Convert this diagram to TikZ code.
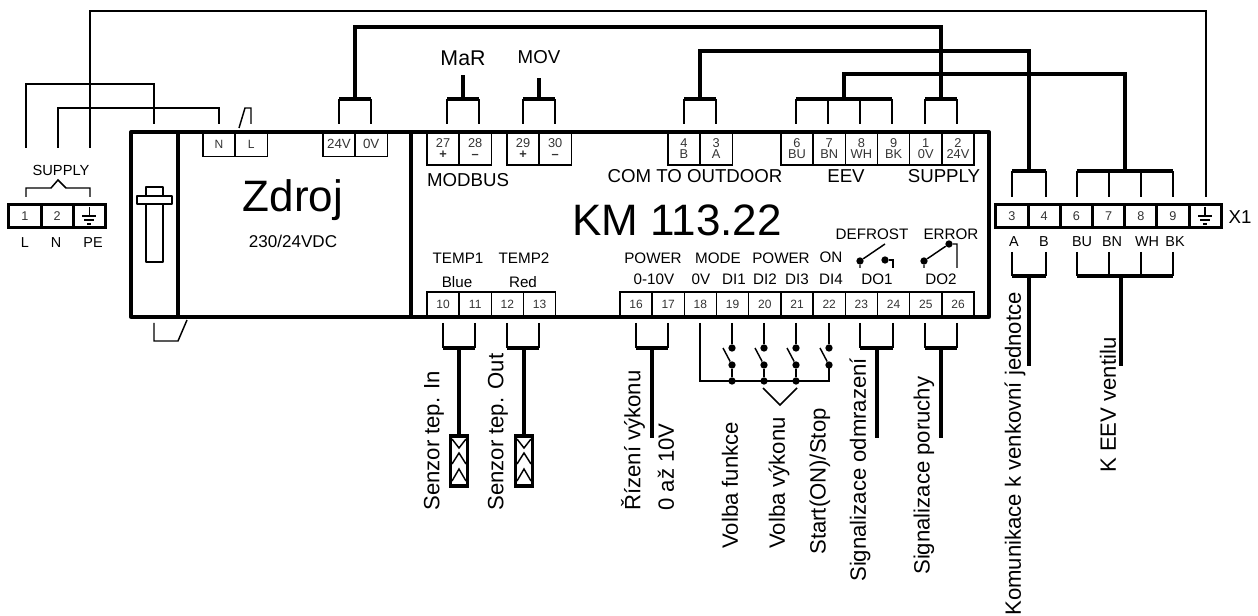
\documentclass[tikz,border=0pt]{standalone}
\usepackage{fontspec}
\setmainfont{Liberation Sans}
\usepackage{tikz}
\usepackage{xcolor}
\newcommand{\fs}[1]{\fontsize{#1}{#1}\selectfont}
\tikzstyle{every node}=[font=\fs{14}, inner sep=0pt]
\tikzstyle{term} = [rectangle, draw, line width=1.1pt, minimum width=24.15pt, minimum height=18.6pt, align=center, text=black!80, font=\fs{9}, node distance=24.15pt]
\tikzstyle{tall} = [term, minimum height=24.75pt, font=\fs{9.6}]
\tikzstyle{xterm} = [term, line width=2.3pt, minimum height=17.5pt, font=\fs{9.5}]
\tikzstyle{wire} = [draw, line width=1.1pt]
\tikzstyle{bus} = [draw, line width=2.5pt, line cap=square]
\tikzstyle{frame} = [draw, line width=2.5pt, line join=round]
\tikzstyle{dot} = [circle, fill, minimum size=5.5pt]
\tikzstyle{sensor} = [rectangle, draw, line width=2.3pt, minimum width=13pt, minimum height=37.5pt]
\tikzstyle{vlabel} = [rotate=90, anchor=west, font=\fs{16.6}]
\tikzstyle{small} = [font=\fs{11.4}]
\tikzstyle{tiny} = [font=\fs{10.8}]

\begin{document}
\begin{tikzpicture}[x=0.75pt, y=-0.75pt]
    \useasboundingbox (0,0) rectangle (1258,616);
    % Housing
    \path [frame] (131,132) rectangle (989,317);
    \path [frame] (178,132) -- (178,317);
    \path [frame] (411,132) -- (411,317);
    % Din clip
    \path [draw, line width=2.2pt, line join=round] (146,187) rectangle (163,262);
    \path [draw, line width=2.2pt, fill=white, line join=round] (137,196) rectangle (172,204);
    \path [wire] (154,323) -- (154,341) -- (178,341) -- (187,320);
    % Top terminals
    \node [term] (tN) at (219,144) {N};
    \node [term, right of=tN] (tL) {L};
    \node [term, font=\fs{10}] (t24) at (339,144) {24V};
    \node [term, right of=t24, font=\fs{10}] (t0) {0V};
    \node [tall] (t27) at (443,148.5) {27\\[-1pt]\textbf{+}};
    \node [tall, right of=t27] (t28) {28\\[-1pt]\textbf{--}};
    \node [tall] (t29) at (523,148.5) {29\\[-1pt]\textbf{+}};
    \node [tall, right of=t29] (t30) {30\\[-1pt]\textbf{--}};
    \node [tall] (t4) at (684,148.5) {4\\[-1pt]B};
    \node [tall, right of=t4] (t3) {3\\[-1pt]A};
    \node [tall] (e6) at (797,148.5) {6\\[-1pt]BU};
    \node [tall, right of=e6] (e7) {7\\[-1pt]BN};
    \node [tall, right of=e7] (e8) {8\\[-1pt]WH};
    \node [tall, right of=e8] (e9) {9\\[-1pt]BK};
    \node [tall, right of=e9] (s1) {1\\[-1pt]0V};
    \node [tall, right of=s1] (s2) {2\\[-1pt]24V};
    % Bottom terminals
    \node [term] (t10) at (443,304.5) {10};
    \node [term, right of=t10] (t11) {11};
    \node [term, right of=t11] (t12) {12};
    \node [term, right of=t12] (t13) {13};
    \node [term] (t16) at (636,304.5) {16};
    \node [term, right of=t16] (t17) {17};
    \node [term, right of=t17] (t18) {18};
    \node [term, right of=t18] (t19) {19};
    \node [term, right of=t19] (t20) {20};
    \node [term, right of=t20] (t21) {21};
    \node [term, right of=t21] (t22) {22};
    \node [term, right of=t22] (t23) {23};
    \node [term, right of=t23] (t24b) {24};
    \node [term, right of=t24b] (t25) {25};
    \node [term, right of=t25] (t26) {26};
    % Redraw the housing edges over the terminals
    \path [frame] (131,132) -- (989,132);
    \path [frame] (131,317) -- (989,317);
    % Supply block
    \node [xterm] (p1) at (25,216) {1};
    \node [xterm, right of=p1] (p2) {2};
    \node [xterm, right of=p2] (pe) {};
    % X1 block
    \node [xterm] (x3) at (1012,216) {3};
    \node [xterm, right of=x3] (x4) {4};
    \node [xterm, right of=x4] (x6) {6};
    \node [xterm, right of=x6] (x7) {7};
    \node [xterm, right of=x7] (x8) {8};
    \node [xterm, right of=x8] (x9) {9};
    \node [xterm, right of=x9] (xe) {};
    % Earth marks
    \foreach \g in {pe,xe} {
        \path [wire] (\g.center) ++(0,-9) -- ++(0,9);
        \path [draw, line width=1pt] (\g.center) ++(-7,0) -- ++(14,0);
        \path [draw, line width=1pt] (\g.center) ++(-5,4) -- ++(10,0);
        \path [draw, line width=1pt] (\g.center) ++(-2,8) -- ++(4,0);
    }
    % Wire ends
    \foreach \n/\x in {a27/447,a28/479,a29/523,a30/555,a4/684,a3/716,a6/796,a7/828,a8/860,a9/892,a1/925,a2/957,a24/339,a0/371}
        \coordinate (\n) at (\x,124);
    \foreach \n/\x in {b10/443,b11/475,b12/507,b13/539,b16/636,b17/668,b18/700,b19/732,b20/764,b21/796,b22/829,b23/860,b24/893,b25/925,b26/957}
        \coordinate (\n) at (\x,323);
    \foreach \n/\x in {c3/1012,c4/1046,c6/1077,c7/1109,c8/1141,c9/1173,ce/1206}
        \coordinate (\n) at (\x,197);
    \foreach \n/\x in {f3/1012,f4/1046,f6/1077,f7/1109,f8/1141,f9/1173}
        \coordinate (\n) at (\x,252);
    \coordinate (lp1) at (26,148);
    \coordinate (lp2) at (58,148);
    \coordinate (lpe) at (90,148);
    % Mains wires
    \path [wire] (lp1) |- (154,84) -- (154,124);
    \path [wire] (lp2) |- (219,108) -- (219,124);
    \path [wire] (lpe) |- (1206,11) -- (ce);
    \path [wire] (239,128) -- (245,108) -- (251,108) -- (251,124);
    % Forks on the housing
    \foreach \l/\r/\y in {a27/a28/99,a29/a30/99,a4/a3/99,a6/a9/99,a1/a2/99,a24/a0/99,c3/c4/171,c6/c9/171,b10/b11/348,b12/b13/348,b16/b17/348,b23/b24/348,b25/b26/348,f3/f4/276,f6/f9/276} {
        \path [wire] (\l) -- (\l |- 0,\y);
        \path [wire] (\r) -- (\r |- 0,\y);
        \path [bus] (\l |- 0,\y) -- (\r |- 0,\y);
    }
    \foreach \n in {a7,a8}
        \path [wire] (\n) -- (\n |- 0,99);
    \foreach \n in {c7,c8}
        \path [wire] (\n) -- (\n |- 0,171);
    \foreach \n in {f7,f8}
        \path [wire] (\n) -- (\n |- 0,276);
    % Thick runs
    \coordinate (mar) at (463,75);
    \coordinate (mov) at (539,78);
    \path [draw, line width=2.5pt] (463,99) -- (mar);
    \path [draw, line width=2.5pt] (539,99) -- (mov);
    \path [draw, line width=2.5pt, line join=miter] (355,99) |- (941,27) -- (941,99);
    \path [draw, line width=2.5pt, line join=miter] (700,99) |- (1029,51) -- (1029,171);
    \path [draw, line width=2.5pt, line join=miter] (844,99) |- (1125,74) -- (1125,171);
    \path [draw, line width=2.5pt] (1029,276) -- (1029,366);
    \path [draw, line width=2.5pt] (1121,276) -- (1121,366);
    \path [draw, line width=2.5pt] (652,348) -- (652,438);
    \path [draw, line width=2.5pt] (877,348) -- (877,438);
    \path [draw, line width=2.5pt] (941,348) -- (941,438);
    % Sensors
    \node [sensor] (sen1) at (459,461) {};
    \node [sensor] (sen2) at (524,461) {};
    \path [draw, line width=2.5pt] (459,348) -- (sen1.north);
    \path [draw, line width=2.5pt] (524,348) -- (sen2.north);
    \foreach \s in {sen1,sen2} {
        \path [wire] (\s.center) ++(-7,-22) -- ++(7,9) -- ++(7,-9);
        \path [wire] (\s.center) ++(-7,3) -- ++(7,-11) -- ++(7,11);
        \path [wire] (\s.center) ++(-7,20) -- ++(7,-12) -- ++(7,12);
    }
    % Input contacts
    \path [wire] (b18) |- (829,381) -- (829,365);
    \foreach \n/\x in {19/732,20/764,21/796,22/829} {
        \node [dot] (up\n) at (\x,348) {};
        \node [dot] (lo\n) at (\x,365) {};
        \path [wire] (b\n) -- (up\n);
        \path [wire] (\x-9,348) -- (lo\n);
    }
    \foreach \n/\x in {19/732,20/764,21/796} {
        \node [dot] (ra\n) at (\x,381) {};
        \path [wire] (lo\n) -- (ra\n);
    }
    \path [wire] (763,388) -- (780,405) -- (797,388);
    % Relay contacts
    \node [dot] (do1a) at (860,261) {};
    \node [dot] (do1b) at (885,260) {};
    \node [dot] (do2a) at (924,261) {};
    \node [dot] (do2b) at (949,244) {};
    \path [wire] (860,268) -- (do1a) -- (885,244);
    \path [wire] (do1b) -- (893,260) -- (893,268);
    \path [wire] (924,268) -- (do2a) -- (do2b) -- (957,244) -- (957,268);
    % Big texts
    \node [font=\fs{33}] (zdroj) at (293,200) {Zdroj};
    \node [font=\fs{12.8}] (volt) at (293,241) {230/24VDC};
    \node [font=\fs{33}] (km) at (677,220) {KM 113.22};
    % Texts at the top
    \node [font=\fs{16}] (lmar) at (463,58) {MaR};
    \node (lmov) at (539,57) {MOV};
    \node (lmod) at (468,180) {MODBUS};
    \node (lcom) at (695,176) {COM TO OUTDOOR};
    \node (leev) at (846,176) {EEV};
    \node (lsup) at (944,176) {SUPPLY};
    % Texts over the bottom terminals
    \node [small] (ltemp1) at (458,258) {TEMP1};
    \node [small] (ltemp2) at (524,258) {TEMP2};
    \node [small] (lblue) at (457,282) {Blue};
    \node [small] (lred) at (523,282) {Red};
    \node [small] (lpow1) at (653,258) {POWER};
    \node [small] (lmode) at (718,258) {MODE};
    \node [small] (lpow2) at (781,258) {POWER};
    \node [small] (lon) at (831,257) {ON};
    \node [small] (l010) at (654,279) {0-10V};
    \node [small] (l0v) at (701,279) {0V};
    \node [small] (ldi1) at (734,279) {DI1};
    \node [small] (ldi2) at (765,279) {DI2};
    \node [small] (ldi3) at (797,279) {DI3};
    \node [small] (ldi4) at (831,279) {DI4};
    \node [small] (ldo1) at (877,279) {DO1};
    \node [small] (ldo2) at (941,279) {DO2};
    \node [small] (ldef) at (872,234) {DEFROST};
    \node [small] (lerr) at (951,234) {ERROR};
    % Supply and X1 texts
    \node [font=\fs{11}] (lsupply) at (61,170) {SUPPLY};
    \path [wire] (26,197) |- (51,188) -- (58,180) -- (66,188) -| (90,197);
    \node [tiny] (ll) at (25,243) {L};
    \node [tiny] (ln) at (56,243) {N};
    \node [tiny] (lpe) at (93,243) {PE};
    \node [font=\fs{14}] (lx1) at (1240,217) {X1};
    \node [tiny] (la) at (1014,242) {A};
    \node [tiny] (lb) at (1044,242) {B};
    \node [tiny] (lbu) at (1082,242) {BU};
    \node [tiny] (lbn) at (1112,242) {BN};
    \node [tiny] (lwh) at (1147,242) {WH};
    \node [tiny] (lbk) at (1175,242) {BK};
    % Rotated texts
    \node [vlabel] (v1) at (434,511) {Senzor tep. In};
    \node [vlabel] (v2) at (498,511) {Senzor tep. Out};
    \node [vlabel] (v3) at (633,511) {Řízení výkonu};
    \node [vlabel] (v4) at (666,511) {0 až 10V};
    \node [vlabel] (v5) at (730,549) {Volba funkce};
    \node [vlabel] (v6) at (779,549) {Volba výkonu};
    \node [vlabel] (v7) at (820,555) {Start(ON)/Stop};
    \node [vlabel] (v8) at (860,582) {Signalizace odmrazení};
    \node [vlabel] (v9) at (924,575) {Signalizace poruchy};
    \node [vlabel] (v10) at (1015,616) {Komunikace k venkovní jednotce};
    \node [vlabel] (v11) at (1108,473) {K EEV ventilu};
\end{tikzpicture}
\end{document}
